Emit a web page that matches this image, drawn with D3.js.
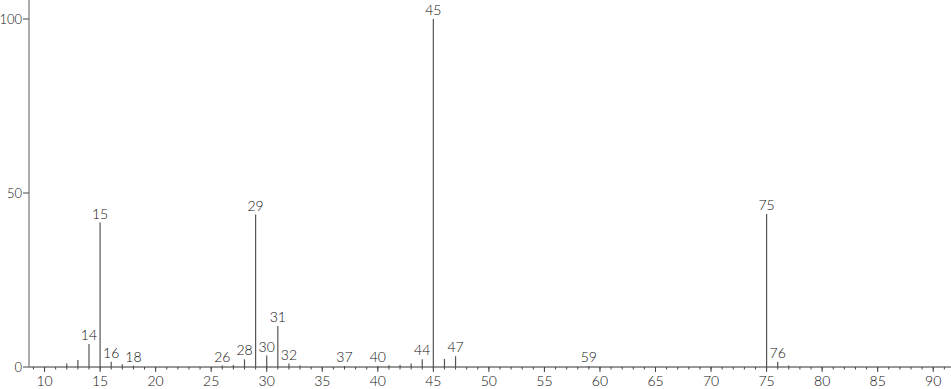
<!DOCTYPE html>
<html>
<head>
<meta charset="utf-8">
<script src="https://cdn.jsdelivr.net/npm/d3@7"></script>
<style>
  body { margin: 0; background: #fff; }
  svg text { font-family: "URW Gothic", "Century Gothic", "Lato", "DejaVu Sans", sans-serif; font-weight: 300; font-size: 14px; fill: #111; }
  svg text.yl { font-size: 13px; }
</style>
</head>
<body>
<svg id="chart" width="951" height="389"></svg>
<script>
// m/z values and relative intensities
const mz =        [12, 13, 14, 15, 16, 17, 18, 26, 27, 28, 29, 30, 31, 32, 33, 37, 40, 41, 42, 43, 44, 45, 46, 47, 59, 75, 76, 77];
const intensity = [1.0, 2.0, 6.6, 41.5, 1.5, 0.8, 0.4, 0.4, 0.6, 2.2, 43.8, 3.3, 11.8, 1.0, 0.4, 0.3, 0.3, 0.5, 0.6, 1.0, 2.2, 100, 2.3, 3.1, 0.3, 44.0, 1.5, 0.4];
const labelled =  [14, 15, 16, 18, 26, 28, 29, 30, 31, 32, 37, 40, 44, 45, 47, 59, 75, 76];
const xTicks = [10, 15, 20, 25, 30, 35, 40, 45, 50, 55, 60, 65, 70, 75, 80, 85, 90];
const yTicks = [0, 50, 100];

const svg = d3.select("#chart");
const W = 951, H = 389;

const x = d3.scaleLinear().domain([8.6, 91.6]).range([29, 951]);
const y = d3.scaleLinear().domain([0, 100]).range([367, 19]);

const peaks = mz.map((m, i) => ({ mz: m, v: intensity[i] }));

// x axis: minor ticks each unit, major every 5
const xAxis = svg.append("g").attr("transform", `translate(0,${y(0)})`);
xAxis.append("line").attr("x1", x.range()[0]).attr("x2", W).attr("stroke", "#333").attr("stroke-width", 1);
xAxis.selectAll(".minor").data(d3.range(9, 92)).enter().append("line")
  .attr("x1", d => x(d)).attr("x2", d => x(d))
  .attr("y1", 0).attr("y2", 2.5).attr("stroke", "#444");
xAxis.selectAll(".major").data(xTicks).enter().append("line")
  .attr("x1", d => x(d)).attr("x2", d => x(d))
  .attr("y1", 0).attr("y2", 5).attr("stroke", "#444");
xAxis.selectAll(".tl").data(xTicks).enter().append("text")
  .attr("x", d => x(d)).attr("y", 19).attr("text-anchor", "middle").text(d => d);

// y axis
const yAxis = svg.append("g").attr("transform", `translate(${x.range()[0]},0)`);
yAxis.append("line").attr("y1", 0).attr("y2", y(0)).attr("stroke", "#999").attr("stroke-width", 1.6);
yAxis.selectAll(".yt").data(yTicks).enter().append("line")
  .attr("x1", -6).attr("x2", 0).attr("y1", d => y(d)).attr("y2", d => y(d)).attr("stroke", "#444");
yAxis.selectAll(".yl").data(yTicks).enter().append("text")
  .attr("class", "yl")
  .attr("x", -7).attr("y", d => y(d) + 5).attr("text-anchor", "end").text(d => d);

// peaks
svg.selectAll(".peak").data(peaks).enter().append("line")
  .attr("x1", d => x(d.mz)).attr("x2", d => x(d.mz))
  .attr("y1", y(0)).attr("y2", d => y(d.v))
  .attr("stroke", "#555").attr("stroke-width", 1.2);

svg.selectAll(".plab").data(peaks.filter(d => labelled.includes(d.mz))).enter().append("text")
  .attr("x", d => x(d.mz)).attr("y", d => y(d.v) - 4)
  .attr("text-anchor", "middle").text(d => d.mz);
</script>
</body>
</html>
